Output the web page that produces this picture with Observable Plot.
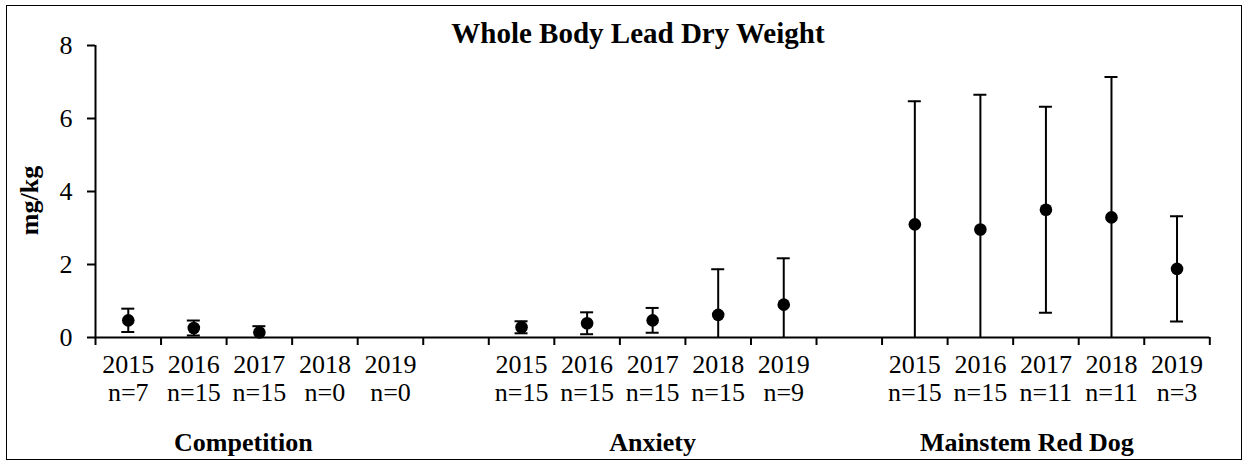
<!DOCTYPE html>
<html>
<head>
<meta charset="utf-8">
<script src="https://cdn.jsdelivr.net/npm/d3@7"></script>
<script src="https://cdn.jsdelivr.net/npm/@observablehq/plot@0.6"></script>
<style>
  html, body { margin: 0; padding: 0; background: #fff; }
  #wrap { position: relative; width: 1244px; height: 461px; overflow: hidden; font-family: "Liberation Serif", "Times New Roman", serif; }
  #wrap svg { position: absolute; left: 0; top: 0; }
  #border { position: absolute; left: 6px; top: 5px; width: 1236px; height: 455px; border: 1.6px solid #000; box-sizing: border-box; pointer-events: none; z-index: 2; }
</style>
</head>
<body>
<div id="wrap"><div id="border"></div></div>
<script>
// ---- data ----
const title = "Whole Body Lead Dry Weight";
const yLabel = "mg/kg";
const sites = ["Competition", "Anxiety", "Mainstem Red Dog"];
const years = [2015, 2016, 2017, 2018, 2019];
const nCompetition = [7, 15, 15, 0, 0];
const nAnxiety = [15, 15, 15, 15, 9];
const nMainstem = [15, 15, 11, 11, 3];
const meanCompetition = [0.47, 0.26, 0.14, null, null];
const meanAnxiety = [0.28, 0.39, 0.47, 0.62, 0.90];
const meanMainstem = [3.10, 2.96, 3.50, 3.29, 1.88];
const errCompetition = [0.32, 0.205, 0.17, null, null];
const errAnxiety = [0.165, 0.30, 0.34, 1.25, 1.27];
const errMainstem = [3.37, 3.69, 2.82, 3.85, 1.44];
const yTicks = [0, 2, 4, 6, 8];

// ---- table ----
const nAll = [nCompetition, nAnxiety, nMainstem];
const meanAll = [meanCompetition, meanAnxiety, meanMainstem];
const errAll = [errCompetition, errAnxiety, errMainstem];
const slotsPerSite = years.length + 1;
const rows = [];
sites.forEach((site, s) => {
  years.forEach((year, k) => {
    rows.push({
      site, year, slot: s * slotsPerSite + k,
      n: nAll[s][k], mean: meanAll[s][k], err: errAll[s][k]
    });
  });
});
const withData = rows.filter(d => d.mean != null);
const nSlots = sites.length * slotsPerSite - 1;
const bounds = d3.range(nSlots + 1);
const cx = d => d.slot + 0.5;
const siteShift = [-16, 0, -19];

const font = "'Liberation Serif', 'Times New Roman', serif";

const chart = Plot.plot({
  width: 1244,
  height: 461,
  marginLeft: 95,
  marginRight: 34.7,
  marginTop: 45,
  marginBottom: 124,
  style: { fontFamily: font, fontSize: "26px", color: "#000", background: "transparent", overflow: "visible" },
  x: { type: "linear", domain: [0, nSlots] },
  y: { type: "linear", domain: [0, 8] },
  marks: [
    Plot.axisY({ ticks: yTicks, tickSize: 8, tickPadding: 15, fontSize: 26, strokeWidth: 2, label: null }),
    Plot.axisX({ ticks: bounds, tickSize: 8, tickFormat: () => "", strokeWidth: 2, label: null }),
    Plot.ruleX([0], { y1: 0, y2: 8, strokeWidth: 2 }),
    Plot.ruleY([0], { x1: 0, x2: nSlots, strokeWidth: 2 }),
    // error bars
    Plot.ruleX(withData, { x: cx, y1: d => d.mean - d.err, y2: d => d.mean + d.err, strokeWidth: 2, clip: true }),
    Plot.ruleY(withData, { x1: cx, x2: cx, y: d => d.mean + d.err, insetLeft: -6.5, insetRight: -6.5, strokeWidth: 2, clip: true }),
    Plot.ruleY(withData, { x1: cx, x2: cx, y: d => d.mean - d.err, insetLeft: -6.5, insetRight: -6.5, strokeWidth: 2, clip: true }),
    Plot.dot(withData, { x: cx, y: "mean", r: 6.3, fill: "#000", stroke: "none" }),
    // x tick labels (year + n)
    Plot.text(rows, { x: cx, text: d => `${d.year}\nn=${d.n}`, frameAnchor: "bottom", lineAnchor: "top", dy: 15.5, fontSize: 26, lineHeight: 1.09, fill: "#000" }),
    // site labels
    ...sites.map((s, i) => Plot.text([s], { x: i * slotsPerSite + years.length / 2, text: d => d, frameAnchor: "bottom", lineAnchor: "bottom", dy: 113, dx: siteShift[i], fontSize: 26, fontWeight: "bold", fill: "#000" })),
    // y label
    Plot.text([yLabel], { text: d => d, frameAnchor: "left", textAnchor: "middle", rotate: -90, lineAnchor: "bottom", dx: -58, dy: 9, fontSize: 26, fontWeight: "bold", fill: "#000" }),
    // title
    Plot.text([title], { text: d => d, frameAnchor: "top", lineAnchor: "bottom", dx: -14.7, dy: -3, fontSize: 29, fontWeight: "bold", fill: "#000" })
  ]
});
document.getElementById("wrap").appendChild(chart);
</script>
</body>
</html>
